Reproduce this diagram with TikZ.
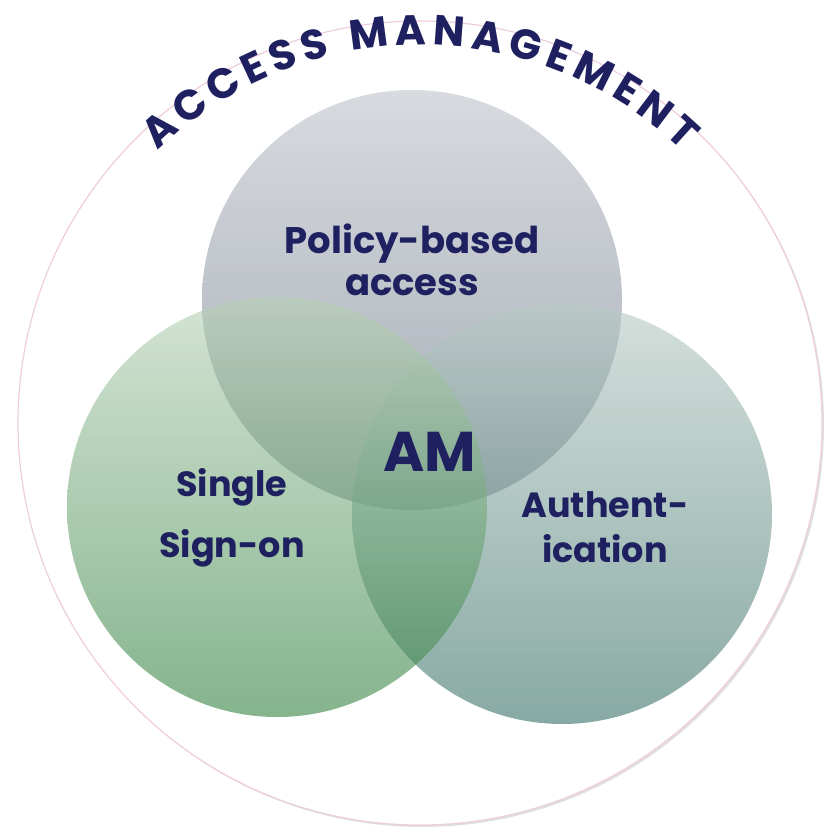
\documentclass[tikz,border=0pt]{standalone}
\usepackage{fontspec}
\newfontfamily\vennfont{Poppins}
\usetikzlibrary{decorations.text,shadows}
\definecolor{amnavy}{HTML}{1F2060}
\definecolor{ringpink}{HTML}{EFCDE0}
\definecolor{polytop}{RGB}{190,195,202}
\definecolor{polybot}{RGB}{105,117,133}
\definecolor{authtop}{RGB}{185,203,198}
\definecolor{authbot}{RGB}{57,113,103}
\definecolor{ssotop}{RGB}{183,210,183}
\definecolor{ssobot}{RGB}{52,130,65}
\begin{document}
\begin{tikzpicture}[x=1pt,y=1pt,
venn/.style={circle,minimum size=420pt,inner sep=0pt,opacity=0.6},
lbl/.style={align=center,text=amnavy,inner sep=0pt}]

\useasboundingbox (0,0) rectangle (825,829);
\node[circle,minimum size=804pt,inner sep=0pt,draw=ringpink,line width=1.2pt,fill=white,
  drop shadow={shadow xshift=2pt,shadow yshift=-2pt,opacity=0.25}] (ring) at (420,406) {};

\node[venn,top color=polytop,bottom color=polybot] (policy) at (412,529) {};
\node[venn,top color=authtop,bottom color=authbot] (auth) at (562,315) {};
\node[venn,top color=ssotop,bottom color=ssobot] (sso) at (277,322) {};

\path[decorate,decoration={text along path,text align=fit to path,text color=amnavy,
  text={|\vennfont\bfseries\fontsize{42}{42}\selectfont|ACCESS MANAGEMENT}}]
  (ring.center) ++(134:378) arc[start angle=134,end angle=46,radius=378];

\node[lbl,font=\vennfont\bfseries\fontsize{37}{42}\selectfont] (policytext) at (412,569) {Policy-based\\access};
\node[lbl,font=\vennfont\bfseries\fontsize{56}{56}\selectfont] (amtext) at (430,377) {AM};
\node[lbl,font=\vennfont\bfseries\fontsize{35}{61}\selectfont] (ssotext) at (232,311) {Single\\Sign-on};
\node[lbl,font=\vennfont\bfseries\fontsize{35}{45}\selectfont] (authtext) at (605,302) {Authent-\\ication};

\end{tikzpicture}
\end{document}
